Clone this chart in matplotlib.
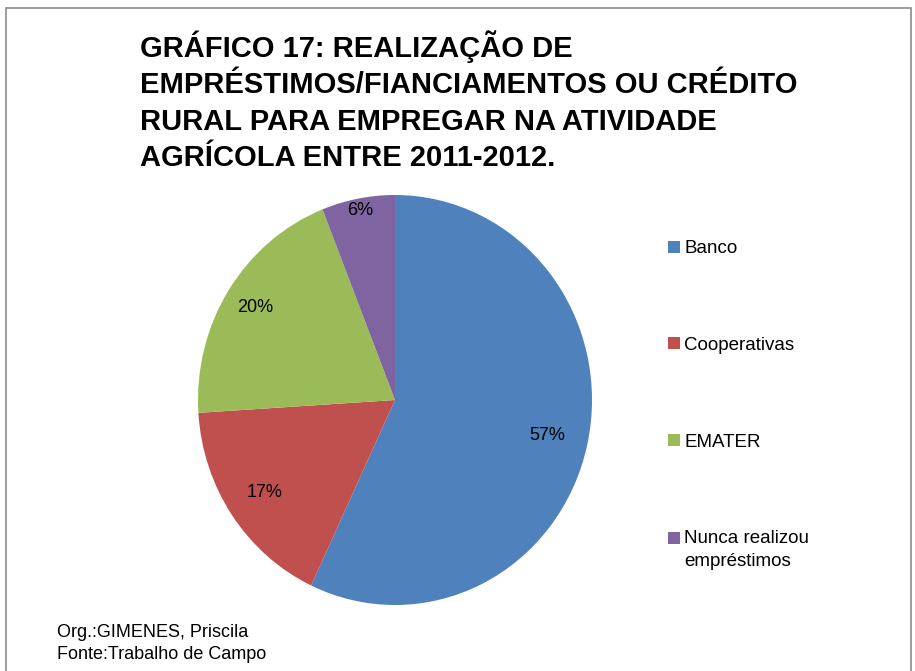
import matplotlib.pyplot as plt
from matplotlib.patches import Rectangle

categorias = ['Banco', 'Cooperativas', 'EMATER', 'Nunca realizou\nempréstimos']
valores = [57, 17, 20, 6]
cores = ['#4F81BD', '#C0504D', '#9BBB59', '#8064A2']
titulo = ('GRÁFICO 17: REALIZAÇÃO DE\nEMPRÉSTIMOS/FIANCIAMENTOS OU CRÉDITO\n'
          'RURAL PARA EMPREGAR NA ATIVIDADE\nAGRÍCOLA ENTRE 2011-2012.')
rodape = 'Org.:GIMENES, Priscila\nFonte:Trabalho de Campo'

plt.rcParams['font.family'] = ['Liberation Sans', 'DejaVu Sans']

fig = plt.figure(figsize=(9.15, 6.71), dpi=100)

# moldura cinza
fig.patches.append(Rectangle((6 / 915, -0.05), 905 / 915, 1.05 - 8 / 671,
                             transform=fig.transFigure, fill=False,
                             edgecolor='#8c8c8c', linewidth=1.2))

# pizza (levemente esticada na vertical, como no original)
cx, cy, w, h = 395, 400, 394, 410
ax = fig.add_axes([(cx - w / 2) / 915, 1 - (cy + h / 2) / 671, w / 915, h / 671])
wedges, textos, pcts = ax.pie(valores, colors=cores, startangle=90, counterclock=False,
                              autopct='%1.0f%%', pctdistance=0.8, radius=1,
                              wedgeprops={'linewidth': 0},
                              textprops={'fontsize': 13, 'color': 'black'})
dist = [0.79, 0.8, 0.84, 0.94]
for t, d in zip(pcts, dist):
    x, y = t.get_position()
    r = (x ** 2 + y ** 2) ** 0.5
    t.set_position((x / r * d, y / r * d))
ax.set_aspect('auto')
ax.set_xlim(-1, 1)
ax.set_ylim(-1, 1)

# título
fig.text(140 / 915, 1 - 30 / 671, titulo, fontsize=21, fontweight='bold',
         va='top', ha='left', linespacing=1.38)

# legenda
leg = fig.legend(wedges, categorias, loc='upper left', bbox_to_anchor=(659 / 915, 1 - 231 / 671),
                 frameon=False, fontsize=13.5, labelspacing=4.25, handlelength=0.6,
                 handleheight=0.6, handletextpad=0.25, borderpad=0)
for t in leg.get_texts():
    t.set_linespacing(1.45)
# quadradinho do item de duas linhas alinhado com a primeira linha
hd = leg.legend_handles[3]
hd.set_y(hd.get_y() + 8.5)

# rodapé
fig.text(57 / 915, 1 - 624 / 671, rodape, fontsize=13, va='top', ha='left',
         linespacing=1.4)

fig.savefig('out.png', dpi=100)
